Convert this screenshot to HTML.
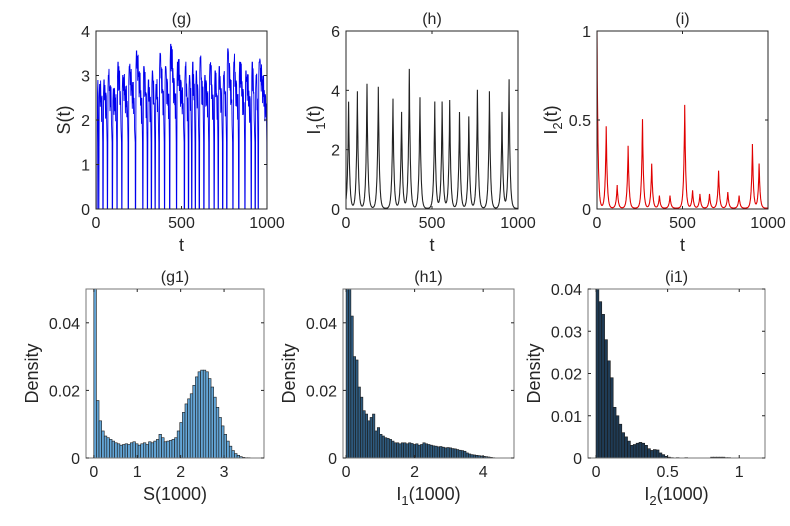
<!DOCTYPE html>
<html><head><meta charset="utf-8">
<style>
html,body{margin:0;padding:0;background:#fff;}
svg{display:block;font-family:"Liberation Sans",Arial,sans-serif;}
</style></head>
<body>
<svg id="fig" width="790" height="526" viewBox="0 0 790 526" xmlns="http://www.w3.org/2000/svg"></svg>
<script>
// ---- time series data ----
const i1PeakTimes = [15,66,122,188,273,323,368,430,516,559,603,660,714,764,834,907,948];
const i1PeakValues = [3.6,3.95,4.2,4.1,3.7,3.25,4.7,3.75,3.6,3.6,3.65,3.25,3.1,4.0,3.95,3.25,4.35];
const i2PeakTimes = [0,54,118,182,266,320,365,427,513,559,602,658,711,765,831,909,948];
const i2PeakValues = [1.0,0.46,0.13,0.35,0.5,0.25,0.07,0.07,0.58,0.1,0.08,0.08,0.21,0.09,0.07,0.36,0.25];
const sCrashTimes = [5,15,40,66,95,122,150,188,230,273,300,323,345,368,400,430,470,516,540,559,580,603,630,660,690,714,740,764,800,834,870,907,930,948];
const sCycleMax = [2.9,2.8,2.9,3.0,2.7,3.3,3.0,3.2,3.55,3.2,2.9,3.1,2.8,3.5,3.2,3.7,3.3,3.2,3.0,3.3,3.1,3.4,3.0,3.25,3.1,3.2,3.0,3.6,3.3,3.3,3.1,3.3,3.0,3.3];
const sJitter = [0.3,-0.4,0.2,-0.6,0.5,-0.2,0.1,-0.7,0.4,-0.3,0.6,-0.5,0.2,-0.1,-0.8,0.3];
// ---- histogram data ----
const g1Densities = [0.06,0.017,0.011,0.008,0.0065,0.006,0.0055,0.005,0.0045,0.0042,0.0038,0.004,0.0042,0.004,0.0045,0.0048,0.0042,0.0038,0.0042,0.0045,0.004,0.0048,0.0045,0.005,0.0055,0.007,0.006,0.0048,0.005,0.0052,0.0055,0.006,0.008,0.0105,0.0135,0.016,0.0175,0.019,0.0215,0.024,0.0255,0.026,0.026,0.0255,0.0235,0.021,0.018,0.015,0.012,0.0095,0.007,0.005,0.0035,0.0022,0.0013,0.0008,0.0004,0.0002,0.0001,0.0001];
const g1BinWidth = 0.06;
const h1Densities = [0.06,0.06,0.042,0.03,0.029,0.021,0.018,0.014,0.013,0.011,0.012,0.013,0.008,0.009,0.007,0.0065,0.006,0.0058,0.0055,0.005,0.0045,0.0045,0.0042,0.0045,0.0045,0.0042,0.0045,0.0043,0.004,0.0042,0.0038,0.004,0.0045,0.0042,0.004,0.0038,0.0036,0.0035,0.0033,0.0034,0.0032,0.003,0.0031,0.003,0.0028,0.0027,0.0025,0.0023,0.0022,0.002,0.0015,0.0012,0.001,0.0009,0.0008,0.0007,0.0006,0.0005,0.0004,0.0003,0.0002,0.0001];
const h1BinWidth = 0.07;
const i1Densities = [0.04,0.037,0.034,0.028,0.023,0.019,0.012,0.01,0.008,0.006,0.005,0.004,0.003,0.0032,0.0035,0.0037,0.0035,0.003,0.0022,0.0018,0.002,0.0019,0.0012,0.0008,0.0004,0.0002,0.0001,0,0.0001,0,0,0.0001,0,0,0,0,0,0,0,0,0.0002,0.0002,0.0002,0.0002,0.0002,0.0001,0.0001,0,0,0,0,0,0,0,0,0,0,0,0,0];
const i1BinWidth = 0.02;

const NS="http://www.w3.org/2000/svg";
const svg=document.getElementById('fig');
function mk(tag,attrs,parent){const e=document.createElementNS(NS,tag);for(const k in attrs)e.setAttribute(k,attrs[k]);(parent||svg).appendChild(e);return e;}
function txt(s,x,y,size,anchor,parent){const t=mk('text',{x:x,y:y,'font-size':size,'text-anchor':anchor||'middle',fill:'#262626'},parent);t.textContent=s;return t;}

function makeAxes(o){
  const g=mk('g',{});
  
  
  const sx=v=>o.x0+(v-o.xmin)/(o.xmax-o.xmin)*(o.x1-o.x0);
  const sy=v=>o.y1-(v-o.ymin)/(o.ymax-o.ymin)*(o.y1-o.y0);
  o.sx=sx;o.sy=sy;o.g=g;
  const clip=mk('clipPath',{id:'c'+o.name},g);
  mk('rect',{x:o.x0,y:o.y0,width:o.x1-o.x0,height:o.y1-o.y0},clip);
  o.plot=mk('g',{'clip-path':'url(#c'+o.name+')'},g);
  return o;
}
function finishAxes(o){
  const g=o.g;
  const frame=mk('rect',{x:o.x0,y:o.y0,width:o.x1-o.x0,height:o.y1-o.y0,fill:'none',stroke:o.frame||'#262626','stroke-width':1},g);
  
  
  o.xticks.forEach((v,i)=>{
    const x=o.sx(v);
    mk('line',{x1:x,y1:o.y1,x2:x,y2:o.y1-3,stroke:'#262626'},g);
    mk('line',{x1:x,y1:o.y0,x2:x,y2:o.y0+3,stroke:'#262626'},g);
    const t=txt(o.xtickLabels[i],x,o.y1+19,16,'middle',g);
    
    
  });
  o.yticks.forEach((v,i)=>{
    const y=o.sy(v);
    mk('line',{x1:o.x0,y1:y,x2:o.x0+3,y2:y,stroke:'#262626'},g);
    mk('line',{x1:o.x1,y1:y,x2:o.x1-3,y2:y,stroke:'#262626'},g);
    const t=txt(o.ytickLabels[i],o.x0-6,y+6,16,'end',g);
    
    
  });
  const ti=txt(o.title,(o.x0+o.x1)/2,o.y0-7,16,'middle',g);
  
  
  const xl=mk('text',{x:(o.x0+o.x1)/2,y:o.y1+42,'font-size':18,'text-anchor':'middle',fill:'#262626'},g);
  xl.innerHTML=o.xlabel;
  
  
  const yl=mk('text',{x:0,y:0,'font-size':18,'text-anchor':'middle',fill:'#262626',transform:'translate('+(o.x0-o.ylabOff)+','+((o.y0+o.y1)/2)+') rotate(-90)'},g);
  yl.innerHTML=o.ylabel;
  
  
}

function spikeSeries(times,vals,base,width){
  const pts=[];
  for(let t=0;t<=1000;t+=1){
    let v=base;
    for(let k=0;k<times.length;k++){v+=vals[k]*Math.exp(-Math.abs(t-times[k])/width);}
    pts.push([t,v]);
  }
  return pts;
}
function drawLine(o,pts,color,name,w){
  const d=pts.map((p,i)=>(i?'L':'M')+o.sx(p[0]).toFixed(1)+' '+o.sy(p[1]).toFixed(1)).join('');
  const p=mk('path',{d:d,fill:'none',stroke:color,'stroke-width':w||0.9},o.plot);
  
  
}

const axG=makeAxes({name:'panel-g',x0:96,x1:267,y0:31,y1:209,xmin:0,xmax:1000,ymin:0,ymax:4,
  xticks:[0,500,1000],xtickLabels:['0','500','1000'],yticks:[0,1,2,3,4],ytickLabels:['0','1','2','3','4'],
  title:'(g)',xlabel:'t',ylabel:'S(t)',ylabOff:26});
{
  const pts=[];let j=0;
  for(let k=0;k<sCrashTimes.length;k++){
    const a=sCrashTimes[k], b=k+1<sCrashTimes.length?sCrashTimes[k+1]:1000;
    const m=sCycleMax[k];
    pts.push([a,0]);pts.push([a+2,0]);
    pts.push([a+4,m*0.9]);
    const span=b-a-8;
    for(let s=6;s<b-a-3;s+=2){
      const frac=(s-6)/Math.max(span,1);
      let v=m-(m-2.2)*frac+sJitter[j%sJitter.length]*0.6;j++;
      if(s<9)v=m;
      pts.push([a+s,v]);
    }
    pts.push([b-1,1.5]);pts.push([b,0]);
  }
  drawLine(axG,pts,'#0000ee','s-series-line');
}
finishAxes(axG);

const axH=makeAxes({name:'panel-h',x0:346,x1:518,y0:31,y1:209,xmin:0,xmax:1000,ymin:0,ymax:6,
  xticks:[0,500,1000],xtickLabels:['0','500','1000'],yticks:[0,2,4,6],ytickLabels:['0','2','4','6'],
  title:'(h)',xlabel:'t',ylabel:'I<tspan font-size="13" dy="5">1</tspan><tspan dy="-5">(t)</tspan>',ylabOff:26});
drawLine(axH,spikeSeries(i1PeakTimes,i1PeakValues,0.02,6),'#222','i1-series-line',1.1);
finishAxes(axH);

const axI=makeAxes({name:'panel-i',x0:597,x1:768,y0:31,y1:209,xmin:0,xmax:1000,ymin:0,ymax:1,
  xticks:[0,500,1000],xtickLabels:['0','500','1000'],yticks:[0,0.5,1],ytickLabels:['0','0.5','1'],
  title:'(i)',xlabel:'t',ylabel:'I<tspan font-size="13" dy="5">2</tspan><tspan dy="-5">(t)</tspan>',ylabOff:40});
drawLine(axI,spikeSeries(i2PeakTimes,i2PeakValues,0.005,6),'#e00000','i2-series-line',1.1);
finishAxes(axI);

function drawHist(o,dens,bw,fill,name){
  dens.forEach((d,i)=>{
    if(d<=0)return;
    const x=o.sx(i*bw), x2=o.sx((i+1)*bw);
    const y=o.sy(Math.min(d,o.ymax*1.05));
    const r=mk('rect',{x:x,y:y,width:x2-x,height:o.sy(0)-y,fill:fill,stroke:'#1a1a1a','stroke-width':0.6},o.plot);
    
    
  });
}
const axG1=makeAxes({name:'panel-g1',x0:86,x1:264,y0:289,y1:458,xmin:-0.18,xmax:3.92,ymin:0,ymax:0.05,frame:'#777',
  xticks:[0,1,2,3],xtickLabels:['0','1','2','3'],yticks:[0,0.02,0.04],ytickLabels:['0','0.02','0.04'],
  title:'(g1)',xlabel:'S(1000)',ylabel:'Density',ylabOff:48});
drawHist(axG1,g1Densities,g1BinWidth,'#63a5d6','g1-bar');
finishAxes(axG1);

const axH1=makeAxes({name:'panel-h1',x0:343,x1:514,y0:289,y1:458,xmin:-0.09,xmax:4.9,ymin:0,ymax:0.05,frame:'#777',
  xticks:[0,2,4],xtickLabels:['0','2','4'],yticks:[0,0.02,0.04],ytickLabels:['0','0.02','0.04'],
  title:'(h1)',xlabel:'I<tspan font-size="13" dy="5">1</tspan><tspan dy="-5">(1000)</tspan>',ylabel:'Density',ylabOff:48});
drawHist(axH1,h1Densities,h1BinWidth,'#2e5a7e','h1-bar');
finishAxes(axH1);

const axI1=makeAxes({name:'panel-i1',x0:588,x1:765,y0:289,y1:458,xmin:-0.056,xmax:1.18,ymin:0,ymax:0.04,frame:'#777',
  xticks:[0,0.5,1],xtickLabels:['0','0.5','1'],yticks:[0,0.01,0.02,0.03,0.04],ytickLabels:['0','0.01','0.02','0.03','0.04'],
  title:'(i1)',xlabel:'I<tspan font-size="13" dy="5">2</tspan><tspan dy="-5">(1000)</tspan>',ylabel:'Density',ylabOff:48});
drawHist(axI1,i1Densities,i1BinWidth,'#1f3b55','i1-bar');
finishAxes(axI1);
</script>
</body></html>
